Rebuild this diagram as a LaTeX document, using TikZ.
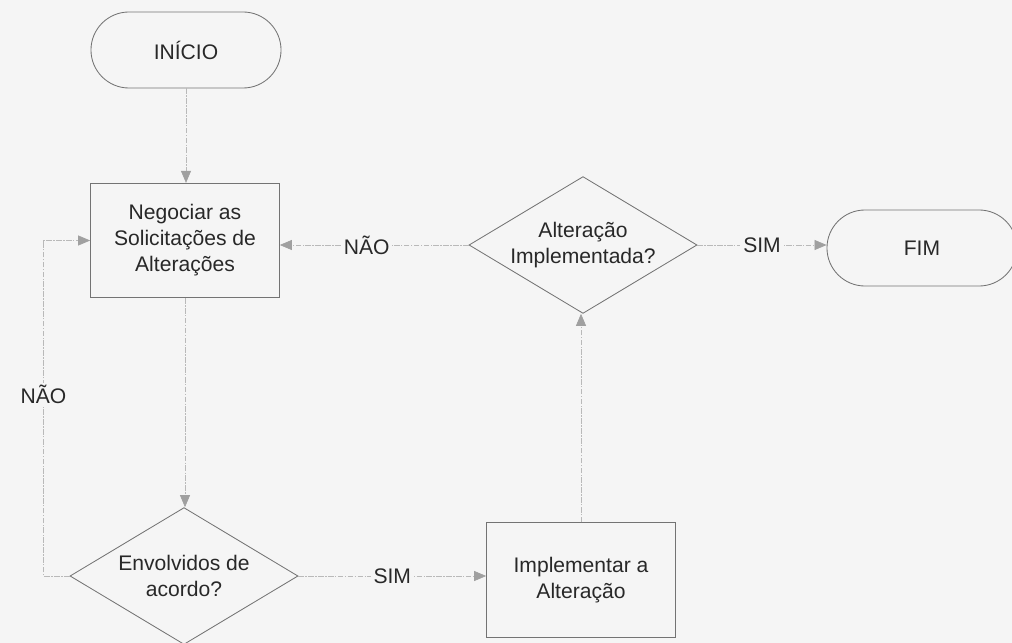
\documentclass[tikz,border=0pt]{standalone}
\usepackage{fontspec}
\setmainfont{Liberation Sans}
\usetikzlibrary{shapes.geometric,arrows.meta}

\definecolor{fundo}{RGB}{245,245,245}
\definecolor{borda}{RGB}{115,115,115}
\definecolor{linha}{RGB}{185,185,185}
\definecolor{ponta}{RGB}{160,160,160}
\definecolor{texto}{RGB}{40,40,40}

\tikzset{
  terminal/.style={draw=borda, line width=0.6pt, rounded corners=0.95cm, minimum width=4.75cm, minimum height=1.9cm, text=texto},
  processo/.style={draw=borda, line width=0.6pt, minimum width=4.72cm, minimum height=2.86cm, align=center, text=texto},
  decisao/.style={diamond, shape aspect=1.66, draw=borda, line width=0.6pt, minimum width=5.7cm, minimum height=3.42cm, inner sep=0pt, align=center, text=texto},
  fluxo/.style={draw=linha, line width=0.5pt, dash pattern=on 4pt off 1pt on 1pt off 1pt, -{Triangle[length=3mm,width=2.5mm,color=ponta]}},
  rotulo/.style={fill=fundo, text=texto, inner sep=2pt}
}

\begin{document}
\begin{tikzpicture}[x=0.025cm, y=-0.025cm, font=\fontsize{15}{18.5}\selectfont]

\path[use as bounding box, fill=fundo] (0,0) rectangle (1012,643);

\node[terminal] (inicio) at (186,50) {INÍCIO};
\node[processo] (negociar) at (185,240.5) {Negociar as\\Solicitações de\\Alterações};
\node[decisao] (alteracao) at (583,245) {Alteração\\Implementada?};
\node[terminal] (fim) at (922,248) {FIM};
\node[decisao] (envolvidos) at (184,576) {Envolvidos de\\acordo?};
\node[processo] (implementar) at (581,580) {Implementar a\\Alteração};

\draw[fluxo] (inicio.south) -- (inicio.south |- negociar.north);
\draw[fluxo] (negociar.south) -- (negociar.south |- envolvidos.north);
\draw[fluxo] (envolvidos.east) -- node[rotulo] {SIM} (envolvidos.east -| implementar.west);
\draw[fluxo] (implementar.north) -- (implementar.north |- alteracao.south);
\draw[fluxo] (alteracao.west) -- node[rotulo, pos=0.54] {NÃO} (alteracao.west -| negociar.east);
\draw[fluxo] (alteracao.east) -- node[rotulo] {SIM} (alteracao.east -| fim.west);
\draw[fluxo] (envolvidos.west) -- ++(-26,0) |- node[rotulo, pos=0.27] {NÃO} (negociar.west);

\end{tikzpicture}
\end{document}
